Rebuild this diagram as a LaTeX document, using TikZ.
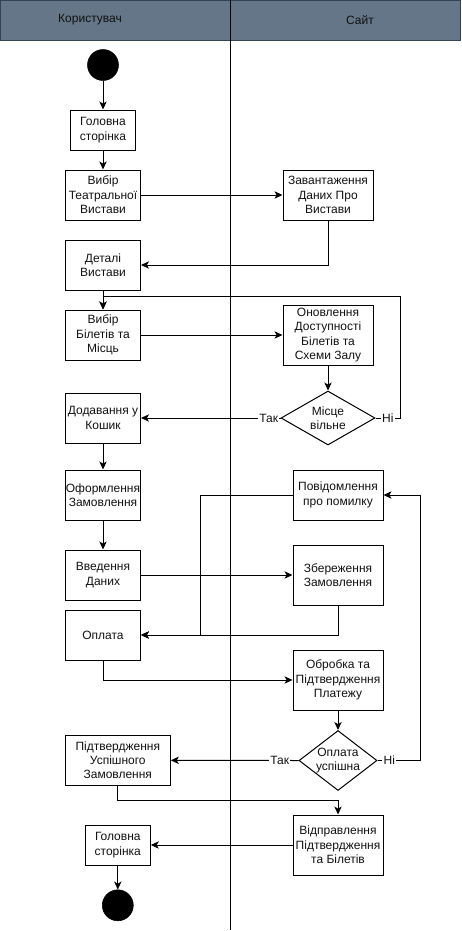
\documentclass[tikz,border=0pt]{standalone}
\usepackage{fontspec}
\setmainfont{Liberation Sans}
\usetikzlibrary{arrows.meta,shapes.geometric}
\definecolor{hdrfill}{HTML}{647687}
\definecolor{hdrline}{HTML}{314354}
\definecolor{txt}{HTML}{111111}
\begin{document}
\begin{tikzpicture}[x=0.75pt,y=-0.75pt,
  every node/.style={font=\fontsize{9pt}{10.8pt}\selectfont, text=txt},
  box/.style 2 args={draw=black, line width=0.75pt, rectangle, inner sep=0pt, align=center,
     minimum width=#1*0.75pt, minimum height=#2*0.75pt},
  dia/.style 2 args={draw=black, line width=0.75pt, diamond, inner sep=0pt,
     minimum width=#1*0.75pt, minimum height=#2*0.75pt},
  dot/.style={circle, fill=black, draw=black, inner sep=0pt, minimum size=31*0.75pt},
  arr/.style={draw=black, line width=0.75pt, -{Stealth[length=6pt,width=5.5pt,inset=1.6pt]}},
  ln/.style={draw=black, line width=0.75pt},
  lbl/.style={fill=white, inner sep=1pt}]
\useasboundingbox (0,0) rectangle (461,931);
% header
\draw[fill=hdrfill, draw=hdrline, line width=0.75pt] (0.5,0.5) rectangle (230,40.5);
\draw[fill=hdrfill, draw=hdrline, line width=0.75pt] (230,0.5) rectangle (460.5,40.5);
\node (hu) at (90,20) {Користувач};
\node (hs) at (360,20) {Сайт};
\draw[ln] (230,0.5) -- (230,930);

% nodes
\node[dot] (s) at (103,65) {};
\node[box={65}{40}] (h1) at (103,130) {Головна\\сторінка};
\node[box={75}{50}] (v1) at (103,195) {Вибір\\Театральної\\Вистави};
\node[box={90}{50}] (z1) at (328,195) {Завантаження\\Даних Про\\Вистави};
\node[box={75}{50}] (d1) at (103,265) {Деталі\\Вистави};
\node[box={75}{50}] (v2) at (103,335) {Вибір\\Білетів та\\Місць};
\node[box={90}{60}] (o1) at (328,335) {Оновлення\\Доступності\\Білетів та\\Схеми Залу};
\node[dia={94}{54}, label={[align=center, font=\fontsize{9pt}{10.8pt}\selectfont, text=txt]center:Місце\\вільне}] (dm1) at (328,418) {};
\node[box={75}{50}] (k1) at (103,418) {Додавання у\\Кошик};
\node[box={75}{50}] (of) at (103,495) {Оформлення\\Замовлення};
\node[box={75}{50}] (vd) at (103,575) {Введення\\Даних};
\node[box={90}{50}] (pm) at (338,495) {Повідомлення\\про помилку};
\node[box={90}{60}] (zb) at (338,575) {Збереження\\Замовлення};
\node[box={75}{50}] (op) at (103,635) {Оплата};
\node[box={90}{60}] (ob) at (338,680) {Обробка та\\Підтвердження\\Платежу};
\node[dia={78}{60}, label={[align=center, font=\fontsize{9pt}{10.8pt}\selectfont, text=txt]center:Оплата\\успішна}] (dm2) at (338,760.5) {};
\node[box={105}{50}] (pu) at (117.8,760.3) {Підтвердження\\Успішного\\Замовлення};
\node[box={90}{60}] (vp) at (338,845) {Відправлення\\Підтвердження\\та Білетів};
\node[box={65}{40}] (h2) at (117.8,845) {Головна\\сторінка};
\node[dot] (e) at (117.8,905.3) {};

\coordinate (c1) at (400,296);
\coordinate (c2) at (200,635);
\coordinate (c3) at (420,760.5);
\coordinate (c4) at (117.8,800);

% connectors
\draw[arr] (s) -- (h1);
\draw[arr] (h1) -- (v1);
\draw[arr] (v1.east) -- (z1.west);
\draw[arr] (z1.south) |- (d1.east);
\draw[arr] (d1.south) -- (v2.north);
\draw[arr] (v2.east) -- (o1.west);
\draw[arr] (o1.south) -- (dm1.north);
\draw[arr] (dm1.west) -- node[lbl, pos=0.085] {Так} (k1.east);
\draw[arr] (dm1.east) -- node[lbl] {Ні} (c1 |- dm1.east) -- (c1) -| (v2.north);
\draw[arr] (k1) -- (of);
\draw[arr] (of) -- (vd);
\draw[arr] (vd.east) -- (zb.west);
\draw[arr] (zb.south) |- (op.east);
\draw[arr] (pm.west) -| (c2) -- (op.east);
\draw[arr] (op.south) |- (ob.west);
\draw[arr] (ob.south) -- (dm2.north);
\draw[arr] (dm2.west) -- node[lbl, pos=0.147] {Так} (pu.east);
\draw[arr] (dm2.east) -- node[lbl, pos=0.28] {Ні} (c3) |- (pm.east);
\draw[arr] (pu.south) -- (c4) -| (vp.north);
\draw[arr] (vp.west) -- (h2.east);
\draw[arr] (h2) -- (e);
\end{tikzpicture}
\end{document}
